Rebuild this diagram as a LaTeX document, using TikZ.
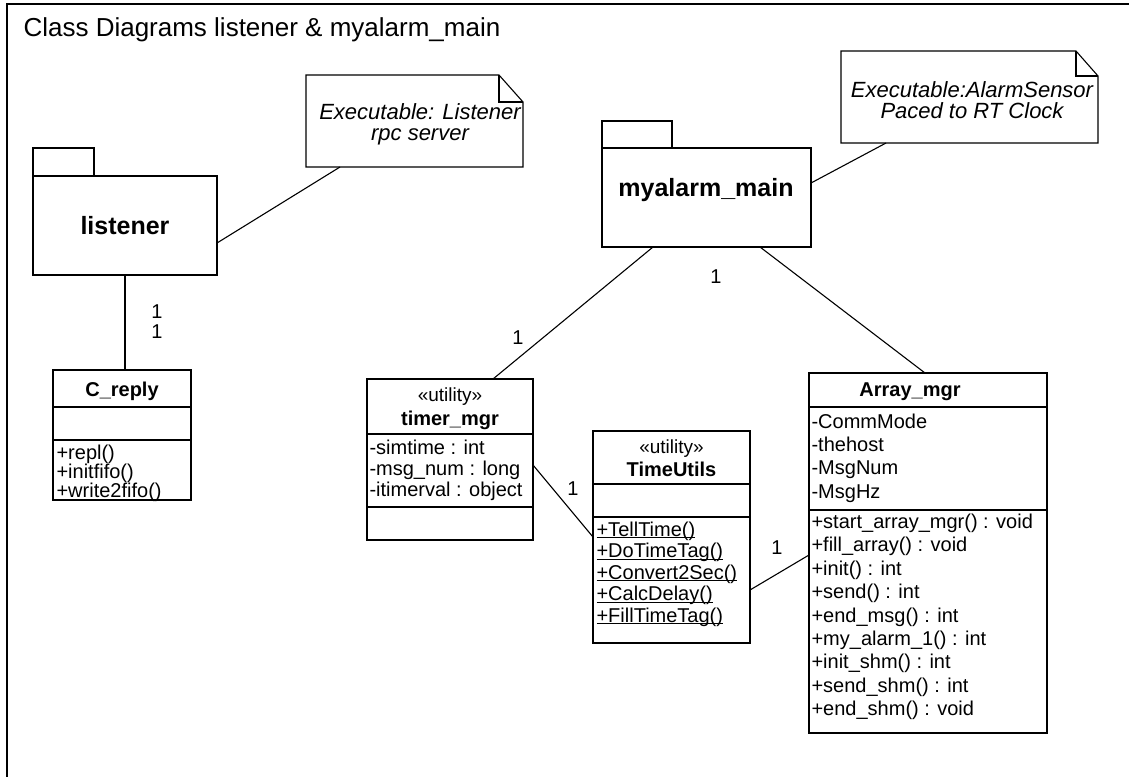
\documentclass[tikz,border=0pt]{standalone}
\usepackage{fontspec}
\setmainfont{Liberation Sans}
\usetikzlibrary{calc}
% underline placed just below the baseline, as in UML static members
\newcommand{\staticop}[1]{\underline{\smash{#1}}}
\begin{document}
\begin{tikzpicture}[x=1pt,y=-1pt,line width=1.1pt,
  frame/.style={line width=1.4pt},
  classbox/.style={draw,line width=1.1pt,inner sep=0pt,outer sep=0pt,anchor=north west},
  pkgbox/.style={draw,line width=1.1pt,inner sep=0pt,outer sep=0pt,anchor=north west,
                 font=\fontsize{25}{28}\selectfont\bfseries},
  notebox/.style={inner sep=0pt,outer sep=0pt,anchor=north west},
  notetext/.style={inner sep=0pt,align=center,font=\fontsize{22}{21}\selectfont\itshape},
  member/.style={anchor=base west,inner sep=0pt,font=\fontsize{20}{24}\selectfont},
  cname/.style={anchor=base,inner sep=0pt,font=\fontsize{20}{24}\selectfont\bfseries},
  stereo/.style={anchor=base,inner sep=0pt,font=\fontsize{19}{24}\selectfont},
  mult/.style={inner sep=0pt,font=\fontsize{20}{24}\selectfont},
  link/.style={line width=1.1pt}
]
\useasboundingbox (0,0) rectangle (1129,777);

% diagram frame and title
\draw[frame] (1129,4) -- (7,4) -- (7,777);
\node[anchor=base west,inner sep=0pt,font=\fontsize{26}{30}\selectfont] (title) at (23,36)
  {Class Diagrams listener \& myalarm\_main};

% package: listener
\node[pkgbox,minimum width=61pt,minimum height=28pt] (ltab) at (33,148) {};
\node[pkgbox,minimum width=184pt,minimum height=99pt] (lb) at (33,176) {listener};

% package: myalarm_main
\node[pkgbox,minimum width=70pt,minimum height=27pt] (mtab) at (602,121) {};
\node[pkgbox,minimum width=209pt,minimum height=99pt] (mb) at (602,148) {};
\node[inner sep=0pt,font=\fontsize{25}{28}\selectfont\bfseries] (mbl) at (706,190) {myalarm\_main};

% notes with folded corner
\node[notebox,minimum width=217pt,minimum height=92pt] (nl) at (306,75) {};
\draw (nl.north west) -- ([xshift=-24pt]nl.north east) -- ([yshift=-27pt]nl.north east)
  -- (nl.south east) -- (nl.south west) -- cycle;
\draw ([xshift=-24pt]nl.north east) |- ([yshift=-27pt]nl.north east);
\node[notetext] (nl-t) at (420,124) {Executable: Listener\\rpc server};

\node[notebox,minimum width=257pt,minimum height=92pt] (nr) at (841,51) {};
\draw (nr.north west) -- ([xshift=-22pt]nr.north east) -- ([yshift=-25pt]nr.north east)
  -- (nr.south east) -- (nr.south west) -- cycle;
\draw ([xshift=-22pt]nr.north east) |- ([yshift=-25pt]nr.north east);
\node[notetext] (nr-t) at (972,100) {Executable:AlarmSensor\\Paced to RT Clock};

% class C_reply
\node[classbox,minimum width=138pt,minimum height=130pt] (cr) at (53,370) {};
\draw (cr.west |- 0,407) -- (cr.east |- 0,407);
\draw (cr.west |- 0,440) -- (cr.east |- 0,440);
\node[cname] (cr-n) at (122,396) {C\_reply};
\node[member] (cr-o1) at (56,459) {+repl()};
\node[member] (cr-o2) at (56,478) {+initfifo()};
\node[member] (cr-o3) at (56,497) {+write2fifo()};

% class timer_mgr
\node[classbox,minimum width=166pt,minimum height=161pt] (tm) at (367,379) {};
\draw (tm.west |- 0,434) -- (tm.east |- 0,434);
\draw (tm.west |- 0,507) -- (tm.east |- 0,507);
\node[stereo] (tm-s) at (450,401) {«utility»};
\node[cname] (tm-n) at (450,425) {timer\_mgr};
\node[member] (tm-a1) at (369,454) {-simtime : int};
\node[member] (tm-a2) at (369,475) {-msg\_num : long};
\node[member] (tm-a3) at (369,496) {-itimerval : object};

% class TimeUtils
\node[classbox,minimum width=157pt,minimum height=212pt] (tu) at (593,431) {};
\draw (tu.west |- 0,484) -- (tu.east |- 0,484);
\draw (tu.west |- 0,517) -- (tu.east |- 0,517);
\node[stereo] (tu-s) at (671.5,453) {«utility»};
\node[cname] (tu-n) at (671.5,476) {TimeUtils};
\node[member] (tu-o1) at (596,536) {\staticop{+TellTime()}};
\node[member] (tu-o2) at (596,557.5) {\staticop{+DoTimeTag()}};
\node[member] (tu-o3) at (596,579) {\staticop{+Convert2Sec()}};
\node[member] (tu-o4) at (596,600.5) {\staticop{+CalcDelay()}};
\node[member] (tu-o5) at (596,622) {\staticop{+FillTimeTag()}};

% class Array_mgr
\node[classbox,minimum width=238pt,minimum height=360pt] (am) at (809,373) {};
\draw (am.west |- 0,407) -- (am.east |- 0,407);
\draw (am.west |- 0,510) -- (am.east |- 0,510);
\node[cname] (am-n) at (910,396) {Array\_mgr};
\foreach \t [count=\i] in {-CommMode,-thehost,-MsgNum,-MsgHz}
  \node[member] (am-a\i) at (811,405+23.3*\i) {\t};
\foreach \t [count=\i] in {+start\_array\_mgr() : void,+fill\_array() : void,+init() : int,
    +send() : int,+end\_msg() : int,+my\_alarm\_1() : int,+init\_shm() : int,
    +send\_shm() : int,+end\_shm() : void}
  \node[member] (am-o\i) at (811,505+23.4*\i) {\t};

% connectors
\draw[link] ([xshift=-74.5pt]nl.south) -- ([yshift=-17.5pt]lb.east);
\draw[link] ([xshift=-83.5pt]nr.south) -- ([yshift=14.5pt]mb.east);
\draw[link] (lb.south) -- (lb.south |- cr.north);
\draw[link] ([xshift=-53.5pt]mb.south) -- ([xshift=43pt]tm.north);
\draw[link] ([xshift=53.5pt]mb.south) -- ([xshift=-3pt]am.north);
\draw[link] ([yshift=-5.5pt]tm.east) -- (tu.west);
\draw[link] ([yshift=-53pt]tu.east) -- ([yshift=-2pt]am.west);

% multiplicities
\node[mult] (m1) at (157,312) {1};
\node[mult] (m2) at (157,332) {1};
\node[mult] (m3) at (518,338) {1};
\node[mult] (m4) at (716,277) {1};
\node[mult] (m5) at (573,489) {1};
\node[mult] (m6) at (777,548) {1};
\end{tikzpicture}
\end{document}
